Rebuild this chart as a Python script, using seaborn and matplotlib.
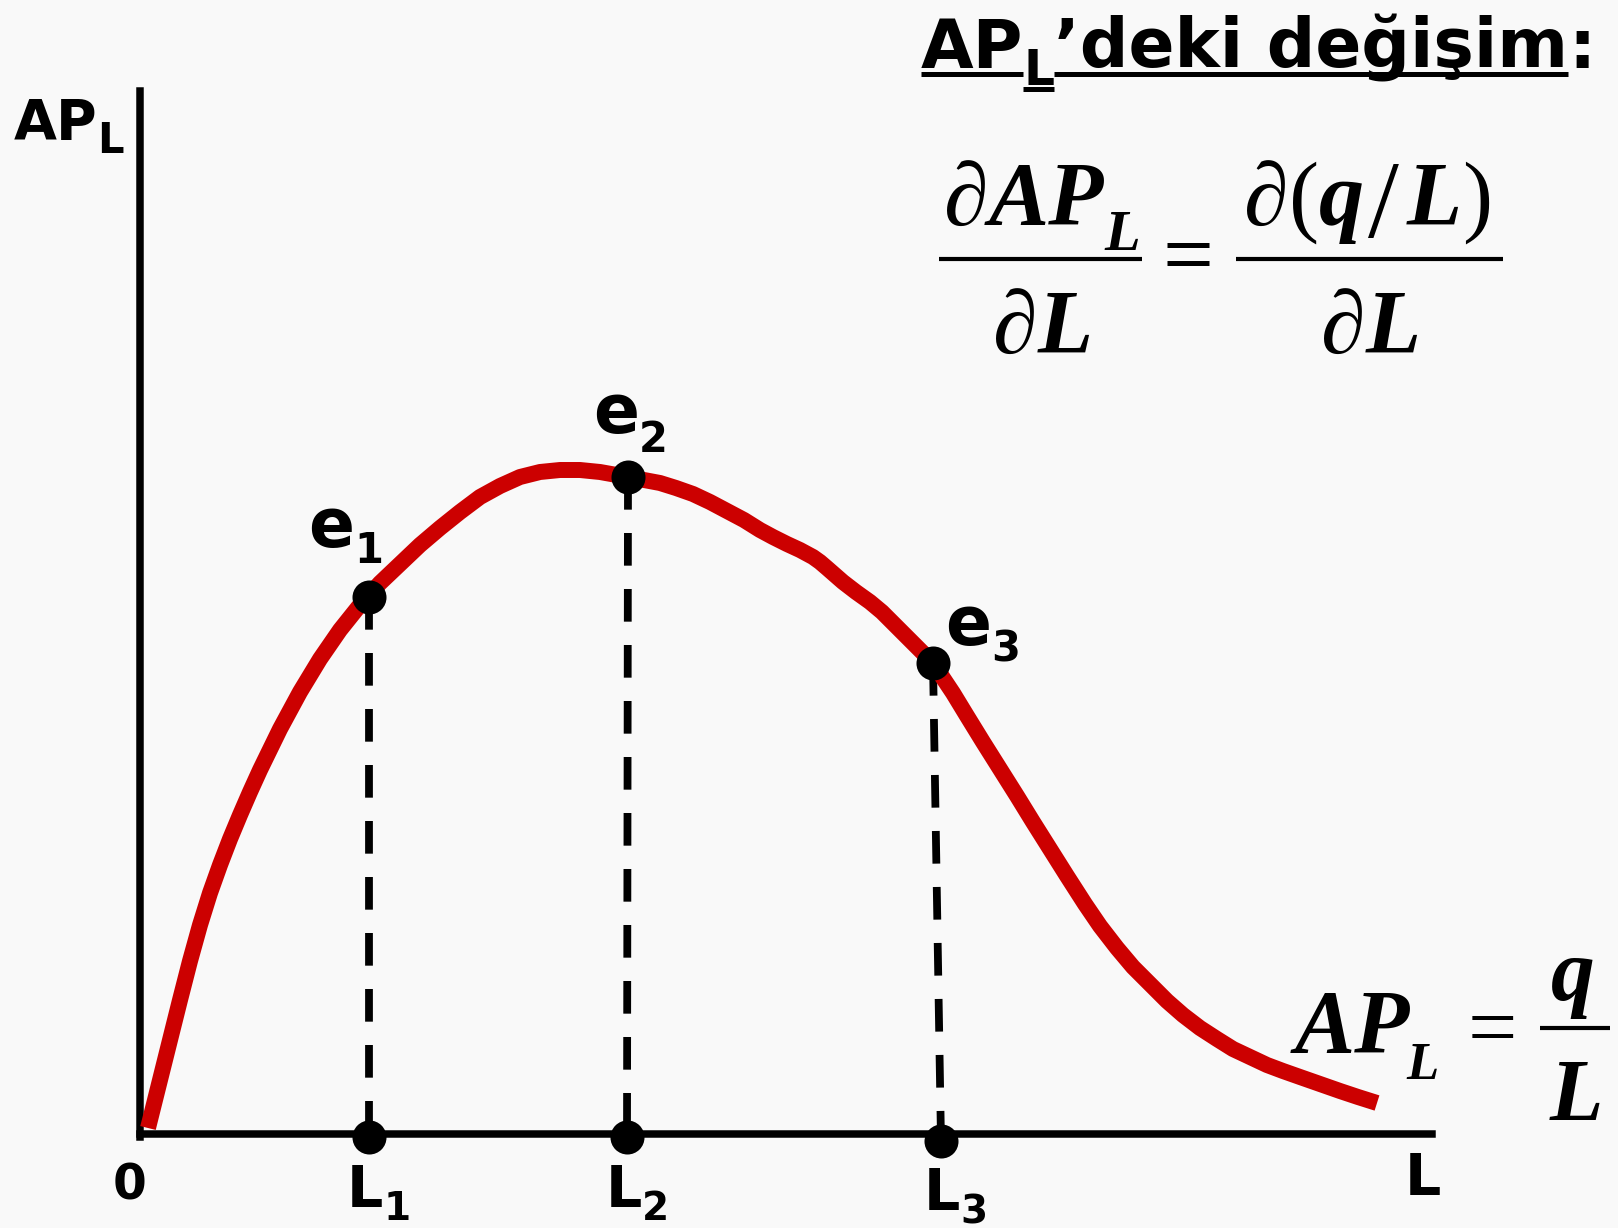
import matplotlib
matplotlib.use("Agg")
import matplotlib.pyplot as plt
import seaborn as sns

# AP_L curve (L on the horizontal axis, AP_L on the vertical axis)
curve_L = [8, 20, 30, 40, 50, 60, 70, 80, 90, 100, 110, 120, 140, 160, 180, 200, 220,
           240, 260, 280, 300, 320, 340, 360, 380, 400, 420, 440, 460, 488, 504, 520,
           536, 553, 570, 587, 604, 620, 633, 647, 660, 673, 680, 687, 695, 703, 716,
           730, 742, 753, 763, 773, 783, 793, 803, 813, 827, 843, 860, 877, 893, 910,
           927, 945, 960, 977, 993, 1010, 1027, 1043, 1060, 1077, 1093, 1110, 1127,
           1143, 1160, 1180, 1200, 1218, 1237]
curve_AP = [6, 54, 94, 134, 173, 209, 241, 269, 295, 319, 342, 364, 405, 442, 475, 504, 529,
            551, 570, 589, 606, 622, 637, 648, 657, 662, 664, 664, 662, 657, 654, 651,
            646, 640, 632, 623, 614, 604, 597, 590, 584, 577, 572, 566, 559, 552, 542,
            532, 522, 511, 501, 491, 481, 471, 456, 441, 418, 392, 365, 338, 312, 285,
            258, 230, 208, 186, 167, 150, 133, 119, 106, 95, 85, 77, 69,
            63, 57, 50, 43, 37, 31]

# marked points e1, e2, e3 and their feet L1, L2, L3
point_L = [229, 488, 793]
point_AP = [537, 657, 471]
foot_L = [229, 487, 801]
foot_AP = [-3, -3, -7]
point_subs = ["1", "2", "3"]

BG = "#f9f9f9"
RED = "#cc0000"
SANSB = dict(family="DejaVu Sans", fontweight="bold")
SERIF = dict(family=["Liberation Serif", "DejaVu Serif"])
SERIF_BI = dict(family=["Liberation Serif", "DejaVu Serif"], fontweight="bold", fontstyle="italic")

sns.set_theme(style="white", rc={"figure.facecolor": BG, "axes.facecolor": BG,
                                 "text.color": "black"})

fig = plt.figure(figsize=(16.18, 12.28), dpi=100)
ax = fig.add_axes([0, 0, 1, 1])
ax.set_xlim(-140, 1478)
ax.set_ylim(-94, 1134)
ax.set_xticks([])
ax.set_yticks([])
for side in ["top", "right"]:
    ax.spines[side].set_visible(False)
for side in ["left", "bottom"]:
    ax.spines[side].set_position(("data", 0))
    ax.spines[side].set_linewidth(5.4)
    ax.spines[side].set_color("black")
ax.spines["left"].set_bounds(-3, 1043)
ax.spines["bottom"].set_bounds(0, 1292)

# dashed drop lines
for xe, ye, xf, yf in zip(point_L, point_AP, foot_L, foot_AP):
    ax.plot([xe, xf], [ye, yf], color="black", lw=5.6, dashes=(4.2, 3.0), zorder=3, clip_on=False)

sns.lineplot(x=curve_L, y=curve_AP, color=RED, linewidth=11.5, sort=False, estimator=None,
             zorder=4, ax=ax)
curve_line = ax.lines[-1]
curve_line.set_linewidth(11.5)
curve_line.set_solid_capstyle("butt")
curve_line.set_solid_joinstyle("round")
sns.scatterplot(x=point_L + foot_L, y=point_AP + foot_AP, color="black", s=600,
                linewidth=0, zorder=5, clip_on=False, ax=ax, legend=False)

renderer = fig.canvas.get_renderer()
inv = ax.transData.inverted()


def chain(x, y, parts):
    # parts: (text, fontsize, dy, style[, dx before])
    out = []
    for p in parts:
        s, size, dy, style = p[:4]
        if len(p) > 4:
            x += p[4]
        t = ax.text(x, y + dy, s, fontsize=size, ha="left", va="baseline", **style)
        bb = t.get_window_extent(renderer)
        x = inv.transform((bb.x1, 0))[0]
        out.append(t)
    return out


def span(t):
    bb = t.get_window_extent(renderer)
    return inv.transform((bb.x0, 0))[0], inv.transform((bb.x1, 0))[0]


# point labels
label_pos = [(168, 587), (453, 701), (805, 489)]
sub_drop = [-16, -19, -17]
for (x, y), sub, d in zip(label_pos, point_subs, sub_drop):
    chain(x, y, [("e", 49, 0, SANSB), (sub, 30, d, SANSB)])

# axis labels
chain(-126, 995, [("AP", 40, 0, SANSB), ("L", 30, -14, SANSB)])
ax.text(-27, -66, "0", fontsize=35, ha="left", va="baseline", **SANSB)
ax.text(1265, -61, "L", fontsize=41, ha="left", va="baseline", **SANSB)
foot_label_pos = [(207, -73), (466, -73), (784, -76)]
for (x, y), sub in zip(foot_label_pos, point_subs):
    chain(x, y, [("L", 41, 0, SANSB), (sub, 28, -13, SANSB)])

# title with underline
title = chain(781, 1066, [("AP", 49, 0, SANSB), ("L", 35, -17, SANSB),
                          ("’deki değişim", 49, 0, SANSB), (":", 49, 0, SANSB)])
for t, yl in [(title[0], 1060), (title[1], 1045), (title[2], 1060)]:
    x0, x1 = span(t)
    ax.plot([x0, x1], [yl, yl], color="black", lw=3.6, solid_capstyle="butt")

# derivative formula
chain(804, 909, [("∂", 65, 0, SERIF), ("AP", 65, 0, SERIF_BI), ("L", 42, -25, SERIF_BI)])
ax.plot([799, 1002], [875, 875], color="black", lw=3, solid_capstyle="butt")
chain(853, 781, [("∂", 65, 0, SERIF), ("L", 65, 0, SERIF_BI)])
ax.text(1048, 849, "=", fontsize=65, ha="center", va="baseline", **SERIF)
chain(1104, 909, [("∂", 65, 0, SERIF), ("(", 65, 0, SERIF), ("q", 65, 0, SERIF_BI),
                  ("/", 80, -12, SERIF, 4), ("L", 65, 0, SERIF_BI, 8), (")", 65, 0, SERIF)])
ax.plot([1096, 1363], [875, 875], color="black", lw=3, solid_capstyle="butt")
chain(1181, 781, [("∂", 65, 0, SERIF), ("L", 65, 0, SERIF_BI)])

# AP_L = q / L
chain(1155, 81, [("AP", 65, 0, SERIF_BI), ("L", 38, -26, SERIF_BI, -4)])
ax.text(1352, 78, "=", fontsize=63, ha="center", va="baseline", **SERIF)
ax.text(1433, 134, "q", fontsize=63, ha="center", va="baseline", **SERIF_BI)
ax.plot([1400, 1470], [106, 106], color="black", lw=3, solid_capstyle="butt", clip_on=False)
ax.text(1436, 14, "L", fontsize=63, ha="center", va="baseline", **SERIF_BI)

fig.savefig("out.png", dpi=100, facecolor=BG)
